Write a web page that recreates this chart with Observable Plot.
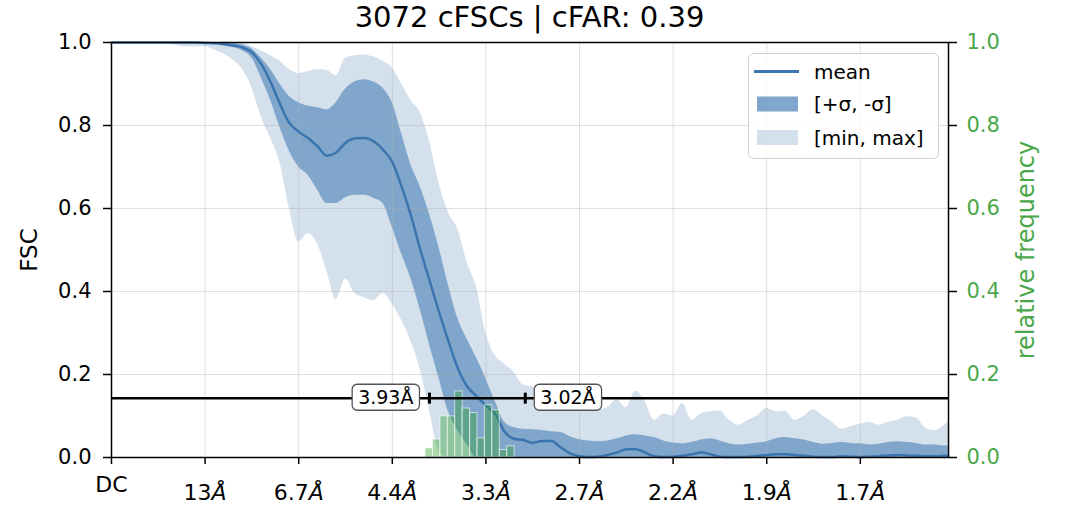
<!DOCTYPE html>
<html><head><meta charset="utf-8">
<script src="https://cdn.jsdelivr.net/npm/d3@7"></script>
<script src="https://cdn.jsdelivr.net/npm/@observablehq/plot@0.6"></script>
<style>
body{margin:0;background:#fff;font-family:"DejaVu Sans",sans-serif;color:#000;}
#wrap{position:relative;width:1066px;height:510px;overflow:hidden;}
#title{position:absolute;left:111px;top:0;height:34px;line-height:34px;font-size:29px;text-align:center;width:837px;white-space:nowrap;z-index:2;}
#legend{position:absolute;left:748px;top:53px;}
svg{display:block;}
</style></head>
<body><div id="wrap"><div id="title">3072 cFSCs | cFAR: 0.39</div></div>
<script>
// spatial frequency in units of 1/13.35 Å⁻¹ (tick k ↔ 13.35/k Å)
const freqUnit = 13.35;
const xTickPos = [0,1,2,3,4,5,6,7,8];
const xTickLabels = ["DC","13Å","6.7Å","4.4Å","3.3Å","2.7Å","2.2Å","1.9Å","1.7Å"];
const yTicks = [0,0.2,0.4,0.6,0.8,1.0];

const freq = [0,0.2,0.4,0.6,0.7,0.8,0.9,1.0,1.1,1.2,
  1.3,1.4,1.5,1.6,1.7,1.8,1.9,2.0,2.1,2.2,
  2.3,2.4,2.5,2.6,2.7,2.8,2.9,3.0,3.1,3.2,
  3.3,3.4,3.5,3.6,3.7,3.8,3.9,4.0,4.1,4.2,
  4.3,4.4,4.5,4.6,4.7,4.8,4.9,5.0,5.1,5.2,
  5.3,5.4,5.5,5.6,5.7,5.8,5.9,6.0,6.1,6.2,
  6.3,6.4,6.5,6.6,6.7,6.8,6.9,7.0,7.1,7.2,
  7.3,7.4,7.5,7.6,7.7,7.8,7.9,8.0,8.1,8.2,
  8.3,8.4,8.5,8.6,8.7,8.8,8.9,8.94];

const fscMax = [1,1,1,1,1,1,1,1,1,1,
  1,0.999,0.99,0.98,0.968,0.955,0.935,0.925,0.93,0.935,
  0.933,0.92,0.962,0.968,0.97,0.965,0.955,0.94,0.90,0.86,
  0.83,0.76,0.66,0.59,0.55,0.47,0.41,0.30,0.245,0.225,
  0.205,0.175,0.17,0.155,0.16,0.14,0.145,0.12,0.135,0.115,
  0.12,0.14,0.12,0.16,0.135,0.09,0.105,0.10,0.13,0.09,
  0.105,0.11,0.112,0.09,0.078,0.09,0.10,0.118,0.11,0.112,
  0.09,0.10,0.115,0.10,0.085,0.068,0.075,0.08,0.085,0.078,
  0.085,0.09,0.098,0.095,0.07,0.065,0.078,0.085];

const fscSdHi = [1,1,1,1,1,1,1,1,1,1,
  0.998,0.994,0.985,0.962,0.935,0.90,0.87,0.855,0.847,0.843,
  0.838,0.855,0.888,0.905,0.91,0.905,0.89,0.855,0.78,0.705,
  0.652,0.585,0.505,0.415,0.335,0.285,0.24,0.19,0.135,0.085,
  0.072,0.068,0.067,0.065,0.062,0.06,0.05,0.043,0.04,0.038,
  0.04,0.045,0.052,0.055,0.052,0.048,0.04,0.035,0.033,0.036,
  0.042,0.045,0.04,0.033,0.03,0.032,0.035,0.038,0.045,0.048,
  0.045,0.042,0.036,0.032,0.034,0.036,0.034,0.033,0.03,0.032,
  0.036,0.038,0.036,0.034,0.03,0.03,0.028,0.028];

const fscMean = [1,1,1,1,1,1,1,0.999,0.998,0.996,
  0.993,0.988,0.976,0.948,0.905,0.852,0.806,0.785,0.77,0.75,
  0.727,0.735,0.758,0.769,0.77,0.762,0.742,0.712,0.652,0.582,
  0.50,0.425,0.35,0.28,0.215,0.171,0.148,0.125,0.104,0.062,
  0.045,0.042,0.035,0.04,0.04,0.024,0.01,0.003,0.001,0.002,
  0.006,0.012,0.02,0.02,0.012,0.003,0.001,0.002,0.004,0.008,
  0.012,0.008,0.002,0.001,0.001,0.002,0.004,0.006,0.008,0.008,
  0.006,0.004,0.002,0.001,0.001,0.003,0.002,0.001,0.002,0.003,
  0.005,0.006,0.005,0.004,0.003,0.003,0.004,0.004];

const fscSdLo = [1,1,1,1,1,0.999,0.999,0.998,0.996,0.993,
  0.988,0.98,0.962,0.915,0.86,0.795,0.738,0.70,0.68,0.645,
  0.612,0.612,0.626,0.632,0.632,0.625,0.612,0.555,0.49,0.43,
  0.355,0.27,0.19,0.11,0.065,0.03,0,0,0,0,
  0,0,0,0,0,0,0,0,0,0,
  0,0,0,0,0,0,0,0,0,0,
  0,0,0,0,0,0,0,0,0,0,
  0,0,0,0,0,0,0,0,0,0,
  0,0,0,0,0,0,0,0];

const fscMin = [1,1,1,0.997,0.993,0.99,0.99,0.99,0.982,0.972,
  0.957,0.935,0.89,0.82,0.77,0.71,0.60,0.52,0.54,0.515,
  0.45,0.38,0.43,0.395,0.385,0.378,0.395,0.37,0.33,0.28,
  0.21,0.11,0.015,0,0,0,0,0,0,0,
  0,0,0,0,0,0,0,0,0,0,
  0,0,0,0,0,0,0,0,0,0,
  0,0,0,0,0,0,0,0,0,0,
  0,0,0,0,0,0,0,0,0,0,
  0,0,0,0,0,0,0,0];

// histogram of resolution at threshold (relative frequency)
const histEdges = [3.355,3.434,3.514,3.593,3.672,3.751,3.831,3.910,3.989,4.068,4.148,4.227,4.306];
const histFreq = [0.022,0.043,0.099,0.099,0.159,0.118,0.107,0.046,0.126,0.114,0.018,0.027];

const threshold = 0.143;
const resBounds = [3.93, 3.02];

const blue = "#3b75af";
const green = "#4aa84a";

const rows = freq.map((x,i)=>({x, hi:fscMax[i], sdHi:fscSdHi[i], mean:fscMean[i], sdLo:fscSdLo[i], lo:fscMin[i]}));
const bins = histFreq.map((f,i)=>({x1:histEdges[i], x2:histEdges[i+1], f}));
const boxLabels = resBounds.map(r => r.toFixed(2)+"Å");

const vbar = {draw(ctx, size){ const h = Math.sqrt(size/Math.PI); ctx.moveTo(0,-h); ctx.lineTo(0,h); }};

const chart = Plot.plot({
  width:1066, height:510,
  marginLeft:111, marginRight:118, marginTop:42, marginBottom:53,
  style:{fontFamily:"DejaVu Sans", fontSize:"21px", color:"black", background:"white"},
  x:{domain:[0,8.942]},
  y:{domain:[0,1]},
  marks:[
    Plot.areaY(rows,{x:"x", y1:"lo", y2:"hi", fill:blue, fillOpacity:0.22, curve:"monotone-x"}),
    Plot.areaY(rows,{x:"x", y1:"sdLo", y2:"sdHi", fill:blue, fillOpacity:0.54, curve:"monotone-x"}),
    Plot.gridX(xTickPos.slice(1),{stroke:"#b0b0b0", strokeOpacity:0.4, strokeWidth:1}),
    Plot.gridY(yTicks.slice(1,-1),{stroke:"#b0b0b0", strokeOpacity:0.4, strokeWidth:1}),
    Plot.lineY(rows,{x:"x", y:"mean", stroke:blue, strokeWidth:2.5, curve:"monotone-x"}),
    Plot.rect(bins,{x1:"x1", x2:"x2", y1:0, y2:"f", fill:"#2ca02c", fillOpacity:0.4, stroke:"white", strokeOpacity:0.6, strokeWidth:1}),
    Plot.ruleY([threshold],{stroke:"black", strokeWidth:2.5}),
    Plot.dot(resBounds,{x:r=>freqUnit/r, y:()=>threshold, symbol:vbar, r:5.5, fill:"none", stroke:"black", strokeWidth:3}),
    Plot.text([resBounds[0]],{x:r=>freqUnit/r, y:()=>threshold, text:r=>r.toFixed(2)+"Å", textAnchor:"end", dx:-16, fontSize:19}),
    Plot.text([resBounds[1]],{x:r=>freqUnit/r, y:()=>threshold, text:r=>r.toFixed(2)+"Å", textAnchor:"start", dx:15, fontSize:19}),
    Plot.frame({stroke:"black", strokeWidth:1.5}),
    Plot.axisX(xTickPos.slice(0,1),{tickSize:7, tickPadding:12, strokeWidth:1.5, fontSize:22, tickFormat:v=>xTickLabels[xTickPos.indexOf(v)], label:null}),
    Plot.axisX(xTickPos.slice(1),{tickSize:7, tickPadding:20, strokeWidth:1.5, fontSize:22, tickFormat:v=>xTickLabels[xTickPos.indexOf(v)], label:null}),
    Plot.axisY(yTicks,{tickSize:8, tickPadding:12, strokeWidth:1.5, tickFormat:d=>d.toFixed(1), label:null}),
    Plot.axisY(yTicks,{anchor:"right", tickSize:8, tickPadding:10, tickFormat:d=>d.toFixed(1), color:green, label:null}),
    Plot.axisY(yTicks,{anchor:"right", tickSize:8, tickFormat:()=>"", color:"black", strokeWidth:1.5, label:null}),
    Plot.text(["FSC"],{frameAnchor:"left", text:d=>d, rotate:-90, textAnchor:"middle", dx:-82, fontSize:23}),
    Plot.text(["relative frequency"],{frameAnchor:"right", text:d=>d, rotate:-90, textAnchor:"middle", dx:78, fontSize:24, fill:green})
  ]
});
const wrap = document.getElementById("wrap");
wrap.appendChild(chart);
chart.style.position = "absolute"; chart.style.left = "0"; chart.style.top = "0";

const NS = "http://www.w3.org/2000/svg";
chart.querySelectorAll("text").forEach(t=>{
  const s = t.textContent;
  if (boxLabels.includes(s)) {
    const b = t.getBBox();
    const r = document.createElementNS(NS,"rect");
    r.setAttribute("x", b.x-6); r.setAttribute("y", b.y-2);
    r.setAttribute("width", b.width+12); r.setAttribute("height", b.height+4);
    r.setAttribute("rx", 5); r.setAttribute("fill","white");
    r.setAttribute("stroke","#555"); r.setAttribute("stroke-width",1.3);
    if (t.getAttribute("transform")) r.setAttribute("transform", t.getAttribute("transform"));
    t.parentNode.insertBefore(r, t);
  } else if (xTickLabels.includes(s) && s.endsWith("Å")) {
    t.textContent = s.slice(0,-1);
    const sp = document.createElementNS(NS,"tspan");
    sp.setAttribute("font-style","italic");
    sp.textContent = "Å";
    t.appendChild(sp);
  }
});

// legend
const lg = d3.select(wrap).append("svg").attr("id","legend").attr("width",192).attr("height",107);
lg.append("rect").attr("x",0.5).attr("y",0.5).attr("width",190).attr("height",105).attr("rx",5)
  .attr("fill","white").attr("fill-opacity",0.8).attr("stroke","#d0d0d0");
const items = [
  {label:"mean", kind:"line", op:1},
  {label:"[+σ, -σ]", kind:"patch", op:1-(1-0.22)*(1-0.54)},
  {label:"[min, max]", kind:"patch", op:0.22}
];
const rowY = [18.5, 51, 84.5];
items.forEach((it,i)=>{
  const y = rowY[i];
  if (it.kind==="line") lg.append("line").attr("x1",6).attr("x2",51).attr("y1",y).attr("y2",y).attr("stroke",blue).attr("stroke-width",3);
  else lg.append("rect").attr("x",9).attr("y",y-7.5).attr("width",41).attr("height",15).attr("fill",blue).attr("fill-opacity",it.op);
  lg.append("text").attr("x",66).attr("y",y).attr("dy","0.35em").attr("font-size",20).attr("font-family","DejaVu Sans").text(it.label);
});
</script></body></html>
